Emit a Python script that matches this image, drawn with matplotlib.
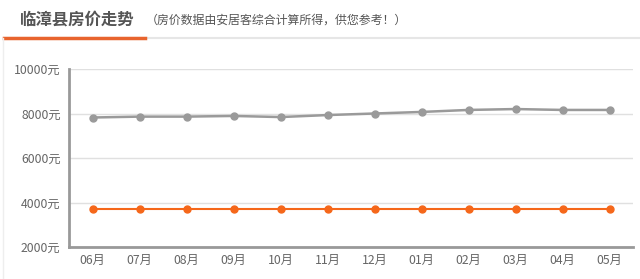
import numpy as np
import matplotlib
matplotlib.use("Agg")
import matplotlib.pyplot as plt
from matplotlib.lines import Line2D

plt.rcParams['font.family'] = ['Noto Sans CJK SC', 'DejaVu Sans']

title = "临漳县房价走势"
subtitle = "（房价数据由安居客综合计算所得，供您参考！）"
months = ["06月", "07月", "08月", "09月", "10月", "11月", "12月", "01月", "02月", "03月", "04月", "05月"]
gray_prices = [7820, 7860, 7860, 7890, 7840, 7930, 8000, 8070, 8160, 8200, 8160, 8160]
orange_prices = [3730, 3730, 3730, 3730, 3730, 3730, 3730, 3730, 3730, 3730, 3730, 3730]
yticks = [2000, 4000, 6000, 8000, 10000]

gray = "#9a9a9a"
orange = "#f5671a"
text_gray = "#666666"

fig = plt.figure(figsize=(6.4, 2.79), dpi=100)
W, H = 640, 279

# header
fig.text(20 / W, 1 - 20 / H, title, fontsize=11.8, color="#555555",
         fontweight="bold", va="center", ha="left")
fig.text(146 / W, 1 - 20 / H, subtitle, fontsize=8.6, color="#555555",
         va="center", ha="left")
fig.add_artist(Line2D([4 / W, 1], [1 - 37.5 / H] * 2, color="#e6e6e6", lw=1.5,
                      transform=fig.transFigure))
fig.add_artist(Line2D([4 / W, 145 / W], [1 - 37.5 / H] * 2, color="#e8642e", lw=2.5,
                      transform=fig.transFigure))
fig.add_artist(Line2D([3 / W] * 2, [0, 1 - 38 / H], color="#eeeeee", lw=1,
                      transform=fig.transFigure))

ax = fig.add_axes([69 / W, 32 / H, 564 / W, 178 / H])
x = np.arange(len(months))
ax.plot(x, gray_prices, color=gray, lw=1.8, marker="o", ms=5, zorder=3)
ax.plot(x, orange_prices, color=orange, lw=1.5, marker="o", ms=5, zorder=3)

ax.set_xlim(-0.5, len(months) - 0.5)
ax.set_ylim(2000, 10000)
ax.set_xticks(x)
ax.set_xticklabels(months)
ax.set_yticks(yticks)
ax.set_yticklabels([f"{v}元" for v in yticks])
ax.tick_params(axis="both", length=0, labelsize=8.8, colors=text_gray)
ax.tick_params(axis="x", pad=5)
ax.tick_params(axis="y", pad=6)
ax.grid(axis="y", color="#e0e0e0", lw=1)
ax.set_axisbelow(True)
for s in ["top", "right"]:
    ax.spines[s].set_visible(False)
for s in ["left", "bottom"]:
    ax.spines[s].set_color("#999999")
    ax.spines[s].set_linewidth(2)

fig.savefig("out.png", dpi=100)
